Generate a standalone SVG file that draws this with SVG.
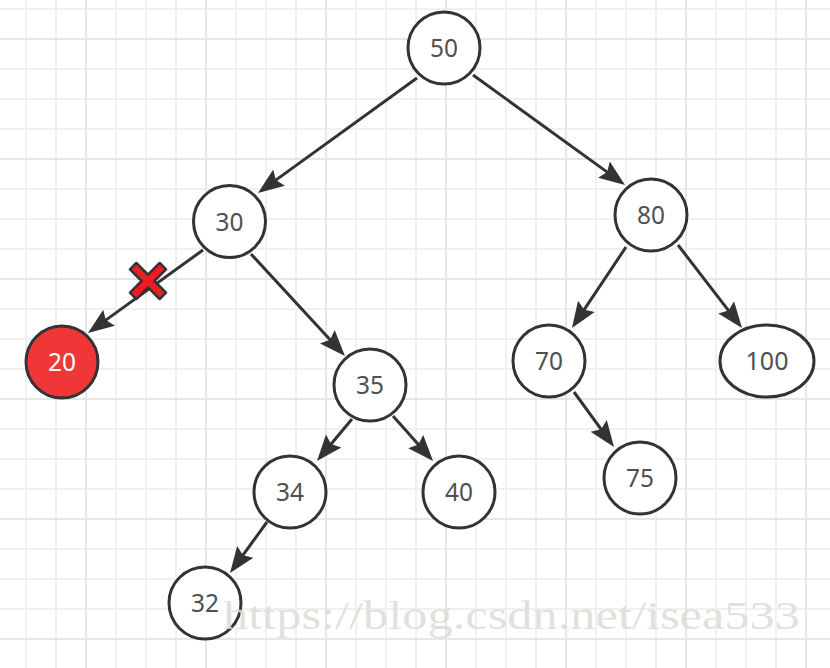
<svg xmlns="http://www.w3.org/2000/svg" width="830" height="668" viewBox="0 0 830 668">
<defs>
<pattern id="minor" patternUnits="userSpaceOnUse" x="25" y="8" width="30" height="30">
<rect x="0" y="0" width="2" height="30" fill="#f0f0f0"/>
<rect x="0" y="0" width="30" height="2" fill="#f0f0f0"/>
</pattern>
<pattern id="major" patternUnits="userSpaceOnUse" x="85" y="38" width="120" height="120">
<rect x="0" y="0" width="2" height="120" fill="#e6e6e6"/>
<rect x="0" y="0" width="120" height="2" fill="#e6e6e6"/>
</pattern>
<marker id="arr" markerUnits="userSpaceOnUse" markerWidth="28" markerHeight="22" refX="16" refY="11" orient="auto">
<path d="M0,1 L26,11 L0,21 L4,11 Z" fill="#333"/>
</marker>
<style>
.node circle, .node ellipse { fill: #fff; stroke: #333; stroke-width: 3; }
.node text { font-family: "Noto Sans", "Open Sans", sans-serif; font-size: 25px; fill: #505050; text-anchor: middle; }
.edge { fill: none; stroke: #333; stroke-width: 3; marker-end: url(#arr); }
</style>
</defs>
<rect width="830" height="668" fill="#fff"/>
<rect width="830" height="668" fill="url(#minor)"/>
<rect width="830" height="668" fill="url(#major)"/>
<g id="connectors">
<path class="edge" d="M417,78 L266.1,187.1"/>
<path class="edge" d="M473,75 L616.9,179.1"/>
<path class="edge" d="M203,250 L96.1,327.1"/>
<path class="edge" d="M251,254 L338.2,348.6"/>
<path class="edge" d="M626,247 L577.5,319.7"/>
<path class="edge" d="M678,245 L735.9,320.1"/>
<path class="edge" d="M574,392 L608.1,438.9"/>
<path class="edge" d="M352,419 L323.4,453.3"/>
<path class="edge" d="M393,416 L426.4,453.5"/>
<path class="edge" d="M267,522 L235.9,564.9"/>
</g>
<g id="n50" class="node"><circle cx="444" cy="48" r="36"/><text x="444" y="57" textLength="28" lengthAdjust="spacingAndGlyphs">50</text></g>
<g id="n30" class="node"><circle cx="229.5" cy="221.5" r="36"/><text x="229.5" y="230.5" textLength="28" lengthAdjust="spacingAndGlyphs">30</text></g>
<g id="n80" class="node"><circle cx="651" cy="215" r="36"/><text x="651" y="224" textLength="28" lengthAdjust="spacingAndGlyphs">80</text></g>
<g id="n20" class="node"><circle cx="62" cy="362" r="36" style="fill:#f03636"/><text x="62" y="371" textLength="28" lengthAdjust="spacingAndGlyphs" style="fill:#fff">20</text></g>
<g id="n35" class="node"><circle cx="370" cy="385" r="36"/><text x="370" y="394" textLength="28" lengthAdjust="spacingAndGlyphs">35</text></g>
<g id="n70" class="node"><circle cx="549" cy="361" r="36"/><text x="549" y="370" textLength="28" lengthAdjust="spacingAndGlyphs">70</text></g>
<g id="n100" class="node"><ellipse cx="767" cy="361" rx="47" ry="36"/><text x="767" y="370" textLength="43" lengthAdjust="spacingAndGlyphs">100</text></g>
<g id="n34" class="node"><circle cx="290" cy="492" r="36"/><text x="290" y="501" textLength="28" lengthAdjust="spacingAndGlyphs">34</text></g>
<g id="n40" class="node"><circle cx="459" cy="492" r="36"/><text x="459" y="501" textLength="28" lengthAdjust="spacingAndGlyphs">40</text></g>
<g id="n75" class="node"><circle cx="640" cy="478" r="36"/><text x="640" y="487" textLength="28" lengthAdjust="spacingAndGlyphs">75</text></g>
<g id="n32" class="node"><circle cx="205" cy="603" r="36"/><text x="205" y="612" textLength="28" lengthAdjust="spacingAndGlyphs">32</text></g>
<g id="cross" transform="translate(148,281) rotate(45)">
<path d="M-4.5,-21 L4.5,-21 L4.5,-4.5 L21,-4.5 L21,4.5 L4.5,4.5 L4.5,21 L-4.5,21 L-4.5,4.5 L-21,4.5 L-21,-4.5 L-4.5,-4.5 Z" fill="#f01c24" stroke="#333" stroke-width="2.5" stroke-linejoin="round"/>
</g>
<text x="223" y="629" textLength="577" lengthAdjust="spacingAndGlyphs" font-family="Liberation Serif, serif" font-size="40" fill="#dcdcd6" fill-opacity="0.85">https://blog.csdn.net/isea533</text>
</svg>
